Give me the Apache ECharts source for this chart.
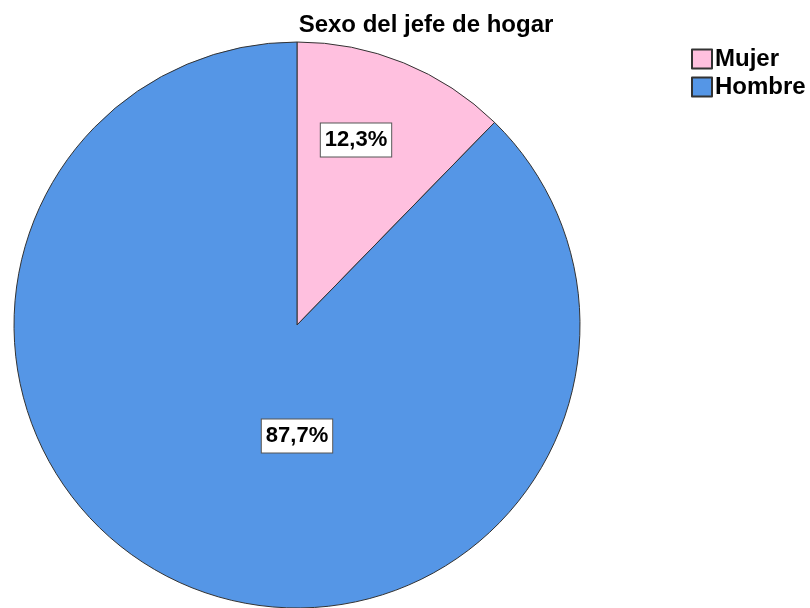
<!DOCTYPE html>
<html>
<head>
<meta charset="utf-8">
<script src="https://cdn.jsdelivr.net/npm/echarts@6/dist/echarts.min.js"></script>
<style>
html,body{margin:0;padding:0;background:#fff;}
#chart{width:810px;height:608px;}
</style>
</head>
<body>
<div id="chart"></div>
<script>
var categories = ['Mujer', 'Hombre'];
var percentages = [12.3, 87.7];
var sliceColors = ['#ffc0df', '#5596e6'];
var titleText = 'Sexo del jefe de hogar';

var chart = echarts.init(document.getElementById('chart'), null, {renderer: 'canvas'});
var data = categories.map(function (c, i) {
  return {name: c, value: percentages[i], itemStyle: {color: sliceColors[i]}};
});
var labelPos = [[356, 140], [297, 436]];
chart.setOption({
  animation: false,
  backgroundColor: '#ffffff',
  title: {
    text: titleText,
    left: 421, top: 8, textAlign: 'center',
    textStyle: {fontFamily: 'Liberation Sans, Arial, sans-serif', fontWeight: 'bold', fontSize: 24, color: '#000'}
  },
  legend: {
    orient: 'vertical',
    left: 686, top: 42,
    itemWidth: 20, itemHeight: 19, itemGap: 4,
    icon: 'rect',
    textStyle: {fontFamily: 'Liberation Sans, Arial, sans-serif', fontWeight: 'bold', fontSize: 24, color: '#000', padding: [0, 0, 0, -2]},
    data: categories
  },
  series: [{
    type: 'pie',
    center: [297, 325],
    radius: 283,
    startAngle: 90,
    clockwise: true,
    data: data,
    itemStyle: {borderColor: '#333', borderWidth: 1},
    emphasis: {disabled: true},
    label: {
      show: true,
      position: 'inside',
      formatter: function (p) { return p.value.toFixed(1).replace('.', ',') + '%'; },
      fontFamily: 'Liberation Sans, Arial, sans-serif',
      fontWeight: 'bold',
      fontSize: 22,
      color: '#000',
      backgroundColor: '#fff',
      borderColor: '#555',
      borderWidth: 1,
      padding: [6, 4, 5, 4]
    },
    labelLine: {show: false},
    labelLayout: function (p) {
      var pos = labelPos[p.dataIndex];
      return {x: pos[0], y: pos[1], align: 'center', verticalAlign: 'middle'};
    }
  }]
});
</script>
</body>
</html>
